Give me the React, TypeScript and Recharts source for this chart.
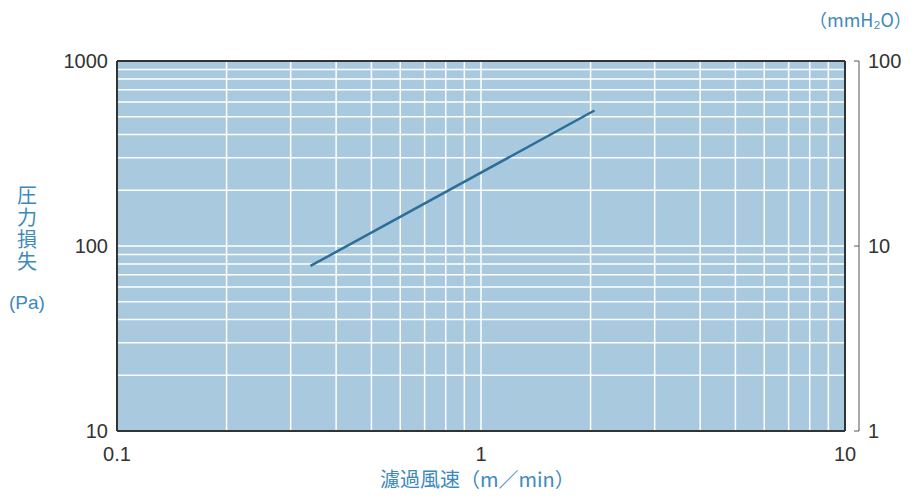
import React from 'react';
import { LineChart, Line, XAxis, YAxis, CartesianGrid } from 'recharts';

// filtration velocity (m/min) gridlines, pressure loss (Pa) gridlines
const speedTicks = [0.1, 0.2, 0.3, 0.4, 0.5, 0.6, 0.7, 0.8, 0.9, 1, 2, 3, 4, 5, 6, 7, 8, 9, 10];
const speedLabels = [0.1, 1, 10];
const paTicks = [10, 20, 30, 40, 50, 60, 70, 80, 90, 100, 200, 300, 400, 500, 600, 700, 800, 900, 1000];
const paLabels = [10, 100, 1000];
const mmTicks = [1, 10, 100];

const speed = [0.34, 2.05];
const pressure = [78, 540];

const data = speed.map((s, i) => ({ speed: s, pa: pressure[i] }));

const TEXT = '#333';
const BLUE = '#3d89bd';
const FONT = '"Liberation Sans", Arial, sans-serif';
const JP = '"Noto Sans CJK JP", sans-serif';

const MmTick = (props: any) => {
  const { x, y, payload } = props;
  const axisX = x - 9;
  return (
    <g>
      <line x1={axisX} y1={y} x2={axisX - 5} y2={y} stroke="#555" strokeWidth={1} />
      <text x={x} y={y} dy="0.35em" textAnchor="start" fill={TEXT} fontSize={20} fontFamily={FONT}>
        {payload.value}
      </text>
    </g>
  );
};

export default function App() {
  return (
    <div style={{ position: 'absolute', left: 0, top: 0, width: 914, height: 501, background: '#fff' }}>
      <LineChart
        width={914}
        height={501}
        data={data}
        margin={{ top: 60, right: 5, left: 47, bottom: 30 }}
      >
        <CartesianGrid stroke="#ffffff" strokeWidth={1.5} fill="#a9c9df" fillOpacity={1} />
        <XAxis
          dataKey="speed"
          type="number"
          scale="log"
          domain={[0.1, 10]}
          ticks={speedTicks}
          interval={0}
          tickFormatter={(v: number) => (speedLabels.includes(v) ? String(v) : '')}
          tickLine={false}
          tickSize={0}
          tickMargin={16}
          height={40}
          axisLine={{ stroke: '#333', strokeWidth: 2 }}
          tick={{ fill: TEXT, fontSize: 20, fontFamily: FONT }}
        />
        <XAxis
          xAxisId="top"
          orientation="top"
          type="number"
          scale="log"
          domain={[0.1, 10]}
          height={1}
          tick={false}
          tickLine={false}
          axisLine={{ stroke: '#333', strokeWidth: 2 }}
        />
        <YAxis
          type="number"
          scale="log"
          domain={[10, 1000]}
          ticks={paTicks}
          interval={0}
          tickFormatter={(v: number) => (paLabels.includes(v) ? String(v) : '')}
          tickLine={false}
          tickSize={0}
          tickMargin={9}
          width={70}
          axisLine={{ stroke: '#333', strokeWidth: 2 }}
          tick={{ fill: TEXT, fontSize: 20, fontFamily: FONT }}
        />
        <YAxis
          yAxisId="edge"
          orientation="right"
          type="number"
          scale="log"
          domain={[10, 1000]}
          width={14}
          tick={false}
          tickLine={false}
          axisLine={{ stroke: '#333', strokeWidth: 2 }}
        />
        <YAxis
          yAxisId="mm"
          orientation="right"
          type="number"
          scale="log"
          domain={[1, 100]}
          allowDataOverflow
          ticks={mmTicks}
          interval={0}
          tickLine={false}
          tickSize={0}
          tickMargin={9}
          width={50}
          axisLine={{ stroke: '#555', strokeWidth: 1 }}
          tick={(p: any) => <MmTick {...p} />}
        />
        <Line
          dataKey="pa"
          type="linear"
          stroke="#2c6e98"
          strokeWidth={2.5}
          dot={false}
          isAnimationActive={false}
        />
      </LineChart>
      <div style={{ position: 'absolute', left: 17, top: 184, width: 20, fontSize: 20, lineHeight: '22px', color: BLUE, fontFamily: JP }}>
        圧力損失
      </div>
      <div style={{ position: 'absolute', left: 9, top: 292, fontSize: 19, lineHeight: '22px', color: BLUE, fontFamily: FONT }}>
        (Pa)
      </div>
      <div style={{ position: 'absolute', left: 380, top: 468, fontSize: 20, lineHeight: '22px', color: BLUE, fontFamily: JP, whiteSpace: 'nowrap' }}>
        濾過風速（m／min）
      </div>
      <div style={{ position: 'absolute', left: 809, top: 8, fontSize: 18, lineHeight: '22px', color: BLUE, fontFamily: JP, whiteSpace: 'nowrap' }}>
        （mmH₂O）
      </div>
    </div>
  );
}
